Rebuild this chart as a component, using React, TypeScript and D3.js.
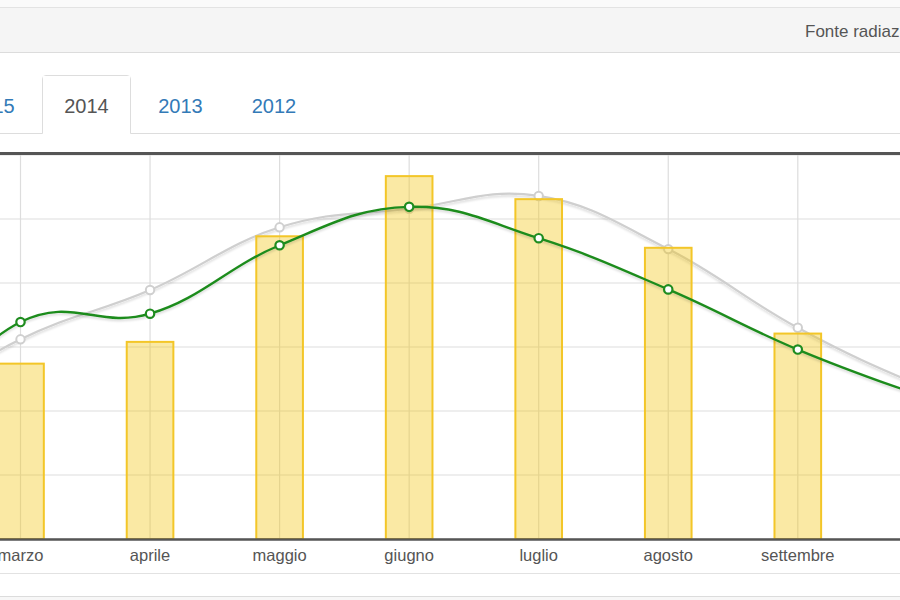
import React from "react";
import * as d3 from "d3";

const months = ["gennaio","febbraio","marzo","aprile","maggio","giugno","luglio","agosto","settembre","ottobre","novembre","dicembre"];
const barMonths = ["marzo","aprile","maggio","giugno","luglio","agosto","settembre","ottobre"];
const barValues = [2.74, 3.08, 4.73, 5.67, 5.31, 4.55, 3.21, 2.1];
const lineMonths = ["febbraio","marzo","aprile","maggio","giugno","luglio","agosto","settembre","ottobre","novembre"];
const greenValues = [1.5, 3.39, 3.52, 4.59, 5.19, 4.70, 3.90, 2.96, 2.2, 1.5];
const grayValues = [1.9, 3.12, 3.89, 4.87, 5.16, 5.36, 4.53, 3.30, 2.35, 1.6];
const yTicks = [0, 1, 2, 3, 4, 5, 6];
const tabs = ["2015", "2014", "2013", "2012"];
const activeTab = "2014";
const highlightMonth = "ottobre";

const W = 900, H = 600;
const STEP = 129.55;
const FIRST = 20.5 - 2 * STEP;
const Y0 = 539, YTOP = 155;
const FONT = "'Liberation Sans', Arial, Helvetica, sans-serif";
const TAB_CENTERS = [-7.5, 86.5, 180.5, 274];

export default function App() {
  const x = d3.scalePoint<string>().domain(months).range([FIRST, FIRST + 11 * STEP]);
  const y = d3.scaleLinear().domain([0, 6]).range([Y0, YTOP]);
  const barW = STEP * 0.36;

  const line = d3.line<number>()
    .x((_, i) => x(lineMonths[i])!)
    .y((d) => y(d))
    .curve(d3.curveCardinal.tension(-0.2));

  return (
    <div style={{ position: "fixed", left: 0, top: 0, width: W, height: H, background: "#fff" }}>
      <svg width={W} height={H} style={{ display: "block", fontFamily: FONT }}>
        <defs>
          <filter id="sh" x="-5%" y="-20%" width="110%" height="140%">
            <feDropShadow dx="0" dy="2" stdDeviation="1.2" floodColor="#000" floodOpacity="0.14" />
          </filter>
          <clipPath id="plot">
            <rect x={0} y={YTOP - 2} width={W} height={Y0 - YTOP + 2} />
          </clipPath>
        </defs>
        {/* header panel */}
        <rect x={0} y={0} width={W} height={8} fill="#fafafa" />
        <rect x={0} y={8} width={W} height={44} fill="#f5f5f5" />
        <line x1={0} x2={W} y1={7.5} y2={7.5} stroke="#e3e3e3" />
        <line x1={0} x2={W} y1={52.5} y2={52.5} stroke="#dcdcdc" />
        <text x={805} y={37} fontSize={17} fill="#555">Fonte radiazione</text>

        {/* tabs */}
        <path d="M0,133.5 H42.5 V79 Q42.5,75.5 46,75.5 H127 Q130.5,75.5 130.5,79 V133.5 H900" fill="none" stroke="#ddd" />
        <rect x={43} y={76} width={87} height={57} fill="#fff" />
        {tabs.map((t, i) => (
          <text key={t} x={TAB_CENTERS[i]} y={113}
            fontSize={20} textAnchor="middle" fill={t === activeTab ? "#555" : "#337ab7"}>{t}</text>
        ))}

        {/* grid */}
        <g clipPath="url(#plot)">
          {yTicks.map((t) => (
            <line key={"h" + t} x1={0} x2={W} y1={y(t)} y2={y(t)} stroke="#ddd" strokeWidth={1.2} />
          ))}
          {months.map((m) => (
            <line key={"v" + m} x1={x(m)} x2={x(m)} y1={YTOP - 2} y2={Y0} stroke="#ddd" strokeWidth={1.2} />
          ))}

          {/* gray line */}
          <path d={line(grayValues)!} fill="none" stroke="#cfcfcf" strokeWidth={2.2} filter="url(#sh)" />
          {grayValues.map((v, i) => (
            <circle key={"g" + i} cx={x(lineMonths[i])} cy={y(v)} r={4.2} fill="#fff" stroke="#cfcfcf" strokeWidth={2} />
          ))}

          {/* bars */}
          {barValues.map((v, i) => (
            <rect key={"b" + i} x={x(barMonths[i])! - barW / 2} y={y(v)} width={barW} height={Y0 - y(v)}
              fill="rgba(241,196,15,0.38)" stroke="#f3c628" strokeWidth={2} />
          ))}

          {/* green line */}
          <path d={line(greenValues)!} fill="none" stroke="#1f8c1f" strokeWidth={2.4} filter="url(#sh)" />
          {greenValues.map((v, i) => (
            <circle key={"c" + i} cx={x(lineMonths[i])} cy={y(v)} r={4.2} fill="#fff" stroke="#1f8c1f" strokeWidth={2.2} />
          ))}
        </g>

        {/* frame */}
        <line x1={0} x2={W} y1={YTOP - 1.5} y2={YTOP - 1.5} stroke="#555" strokeWidth={3} />
        <line x1={0} x2={W} y1={Y0 + 0.5} y2={Y0 + 0.5} stroke="#555" strokeWidth={2.5} />

        {/* month labels */}
        {months.map((m) => (
          <text key={"l" + m} x={x(m)} y={561} fontSize={16.5} textAnchor="middle"
            fill={m === highlightMonth ? "#f0b429" : "#555"}>{m}</text>
        ))}

        <line x1={0} x2={W} y1={573.5} y2={573.5} stroke="#e2e2e2" />
        <line x1={0} x2={W} y1={596.5} y2={596.5} stroke="#dcdcdc" />
        <rect x={0} y={597} width={W} height={3} fill="#f7f7f7" />
      </svg>
    </div>
  );
}
